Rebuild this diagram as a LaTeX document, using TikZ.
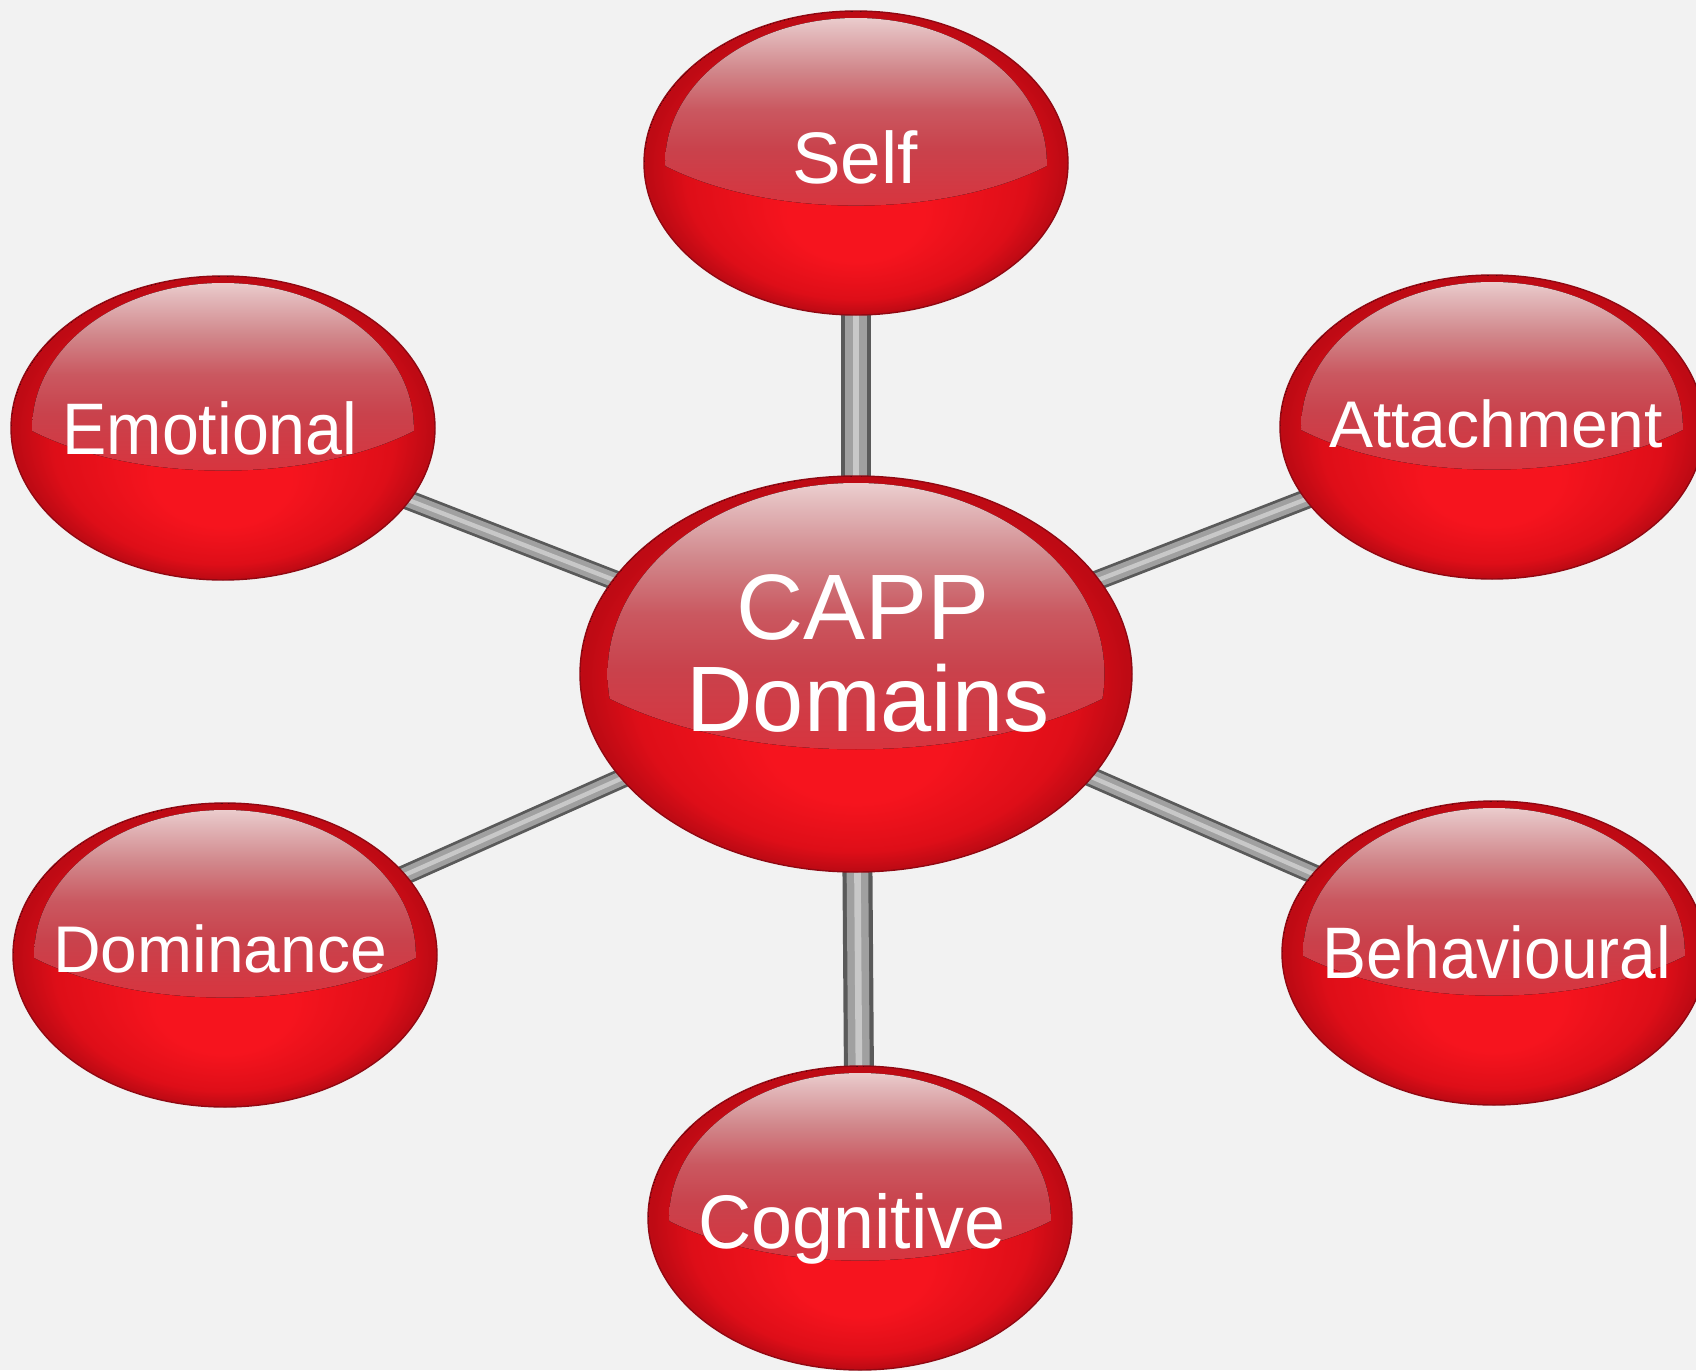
\documentclass[tikz,border=0pt]{standalone}
\usepackage{fontspec}
\setmainfont{Liberation Sans}
\usepackage{graphicx}
\definecolor{bg}{HTML}{F2F2F2}
\definecolor{rA}{HTML}{F6141E}
\definecolor{rB}{HTML}{DE0E18}
\definecolor{rC}{HTML}{BE0A14}
\definecolor{rimc}{HTML}{900812}
\definecolor{h0}{HTML}{EFD6D6}
\definecolor{h1}{HTML}{E3BABC}
\definecolor{h2}{HTML}{D1878B}
\definecolor{h3}{HTML}{CA5860}
\definecolor{h4}{HTML}{C9424C}
\definecolor{h5}{HTML}{D8343E}
\definecolor{rodDark}{HTML}{5A5A5A}
\definecolor{rodMid}{HTML}{A0A0A0}
\definecolor{rodLight}{HTML}{C8C8C8}
\pgfdeclareradialshading{redball}{\pgfpoint{0bp}{-12bp}}{color(0bp)=(rA); color(8bp)=(rA); color(20bp)=(rB); color(24.5bp)=(rC); color(25bp)=(rC)}
\pgfdeclareverticalshading{gloss}{100bp}{color(0bp)=(h5); color(25bp)=(h5); color(40bp)=(h4); color(50bp)=(h3); color(60bp)=(h2); color(70bp)=(h1); color(75bp)=(h0); color(100bp)=(h0)}
\tikzset{
  lbl/.style={anchor=base, text=white, inner sep=0pt},
  rodouter/.style={draw=rodDark, line width=#1},
  rodmid/.style={draw=rodMid, line width=#1},
  rodhi/.style={draw=rodLight, line width=#1},
}
% name, cx, cy, rx, ry, highlight-bottom factor
\newcommand\glossball[6]{%
  \pgfmathsetmacro\hrx{0.9*#4}%
  \pgfmathsetmacro\hry{#5-7}%
  \pgfmathsetmacro\bigA{1.23*#4}%
  \pgfmathsetmacro\bigB{0.82*#5}%
  \pgfmathsetmacro\bigy{#3+#6*#5-\bigB}%
  \pgfmathsetmacro\rtop{#3-#5}%
  \pgfmathsetmacro\rbot{#3+#6*#5+2}%
  \pgfmathsetmacro\rl{#2-#4}%
  \pgfmathsetmacro\rr{#2+#4}%
  \fill[shading=redball] (#2,#3) ellipse [x radius=#4pt, y radius=#5pt];
  \begin{scope}
    \clip (#2,#3) ellipse [x radius=\hrx pt, y radius=\hry pt];
    \clip (#2,\bigy) ellipse [x radius=\bigA pt, y radius=\bigB pt];
    \fill[shading=gloss] (\rl,\rtop) rectangle (\rr,\rbot);
  \end{scope}
  \draw[rimc, line width=1.4pt] (#2,#3) ellipse [x radius=#4pt, y radius=#5pt];
}
\newcommand\rodline[3]{%
  \pgfmathsetmacro\rwa{#3}%
  \pgfmathsetmacro\rwb{0.72*#3}%
  \pgfmathsetmacro\rwc{0.22*#3}%
  \draw[rodouter=\rwa pt] (#1) -- (#2);
  \draw[rodmid=\rwb pt] (#1) -- (#2);
  \draw[rodhi=\rwc pt] (#1) -- (#2);
}
\begin{document}
\begin{tikzpicture}[x=1pt, y=-1pt]
\fill[bg] (0,0) rectangle (1696,1370);
\useasboundingbox (0,0) rectangle (1696,1370);
\clip (0,0) rectangle (1696,1370);
% centres
\coordinate (self) at (856,163);
\coordinate (emo)  at (223,428);
\coordinate (att)  at (1492,427);
\coordinate (dom)  at (225,955);
\coordinate (beh)  at (1494,953);
\coordinate (cog)  at (860,1218);
\coordinate (capp) at (856,674);
% rods
\rodline{self}{capp}{30}
\rodline{capp}{cog}{30}
\rodline{emo}{capp}{20}
\rodline{att}{capp}{20}
\rodline{dom}{capp}{20}
\rodline{beh}{capp}{20}
% balls
\glossball{self}{856}{163}{212}{152}{0.28}
\glossball{emo}{223}{428}{212}{152}{0.28}
\glossball{att}{1492}{427}{212}{152}{0.28}
\glossball{dom}{225}{955}{212}{152}{0.28}
\glossball{beh}{1494}{953}{212}{152}{0.28}
\glossball{cog}{860}{1218}{212}{152}{0.28}
\glossball{capp}{856}{674}{276}{198}{0.38}
% labels
\node[lbl, font=\fontsize{73pt}{80pt}\selectfont] (selfT) at (855,183) {Self};
\node[lbl, font=\fontsize{73pt}{80pt}\selectfont] (emoT) at (210,454) {\scalebox{0.909}[1]{Emotional}};
\node[lbl, font=\fontsize{66pt}{72pt}\selectfont] (attT) at (1496,447) {Attachment};
\node[lbl, font=\fontsize{66pt}{72pt}\selectfont] (domT) at (220,972) {Dominance};
\node[lbl, font=\fontsize{73pt}{80pt}\selectfont] (behT) at (1497,978) {\scalebox{0.903}[1]{Behavioural}};
\node[lbl, font=\fontsize{76pt}{82pt}\selectfont] (cogT) at (852,1248) {\scalebox{0.969}[1]{Cognitive}};
\node[lbl, text depth=0pt, font=\fontsize{93pt}{100pt}\selectfont] (cappT) at (863,639) {CAPP};
\node[lbl, text height=67pt, font=\fontsize{93pt}{100pt}\selectfont] (domainsT) at (868,731) {\scalebox{0.99}[1]{Domains}};
\end{tikzpicture}
\end{document}
